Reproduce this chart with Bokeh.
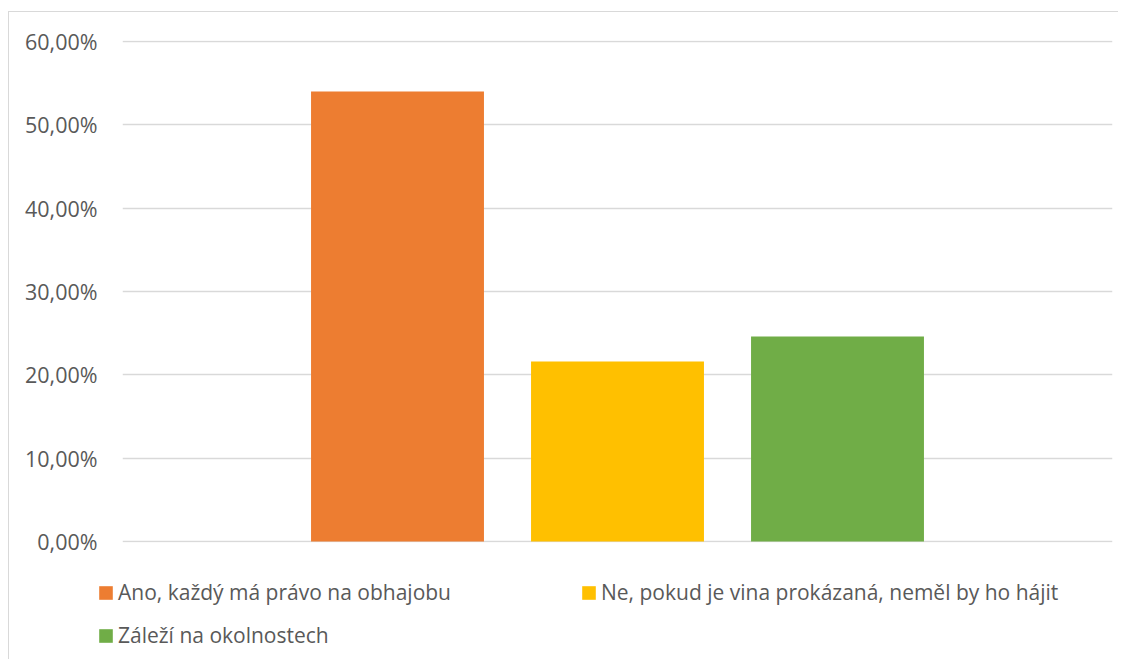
from bokeh.plotting import figure
from bokeh.models import ColumnDataSource, FactorRange, Range1d, FixedTicker, Legend, LegendItem
from bokeh.embed import file_html
from bokeh.resources import INLINE

# ---- data ----
series = ["Ano, každý má právo na obhajobu",
          "Ne, pokud je vina prokázaná, neměl by ho hájit",
          "Záleží na okolnostech"]
values = [54.0, 21.6, 24.6]
colors = ["#ED7D31", "#FFC000", "#70AD47"]
ticks = [0, 10, 20, 30, 40, 50, 60]
tick_labels = ["0,00%", "10,00%", "20,00%", "30,00%", "40,00%", "50,00%", "60,00%"]

FONT = "Open Sans"
FS = "21.5px"
TXT = "#595959"

source = ColumnDataSource(dict(x=series, top=values, color=colors))

# ---- main chart ----
p = figure(width=1110, height=548, output_backend="svg", toolbar_location=None,
           x_range=FactorRange(factors=series, range_padding=0.5),
           y_range=Range1d(-0.12, 60.12),
           min_border_left=113, min_border_top=28, min_border_right=7, min_border_bottom=18)
p.styles = {"border-top": "1px solid #d9d9d9", "border-left": "1px solid #d9d9d9",
            "margin-top": "11px", "margin-left": "8px"}

r = p.vbar(x="x", top="top", width=0.786, source=source, fill_color="color",
           line_color=None)

p.outline_line_color = None
p.background_fill_color = "white"
p.border_fill_color = "white"
p.xaxis.visible = False
p.xgrid.visible = False
p.ygrid.grid_line_color = "#d9d9d9"
p.ygrid.grid_line_width = 1.5

ya = p.yaxis[0]
ya.ticker = FixedTicker(ticks=ticks)
ya.major_label_overrides = {t: l for t, l in zip(ticks, tick_labels)}
ya.axis_line_color = None
ya.major_tick_line_color = None
ya.minor_tick_line_color = None
ya.major_tick_out = 0
ya.major_tick_in = 0
ya.major_label_standoff = 25
ya.major_label_text_font = FONT
ya.major_label_text_font_size = FS
ya.major_label_text_color = TXT

# ---- legend strip (same series, bars kept out of view) ----
p2 = figure(width=1110, height=100, output_backend="svg", toolbar_location=None,
            x_range=FactorRange(factors=series), y_range=Range1d(1000, 1001),
            min_border_left=0, min_border_top=0, min_border_right=0, min_border_bottom=0)
p2.styles = {"border-left": "1px solid #d9d9d9", "margin-left": "8px"}
r2 = p2.vbar(x="x", top="top", width=0.5, source=source, fill_color="color",
             line_color=None)
p2.axis.visible = False
p2.grid.visible = False
p2.outline_line_color = None

items = [LegendItem(label=s, renderers=[r2], index=i) for i, s in enumerate(series)]
leg = Legend(items=items, location=(88, 10), orientation="horizontal", ncols=2,
             border_line_color=None, background_fill_alpha=0, padding=0, margin=0,
             glyph_width=17, glyph_height=17, label_standoff=4, label_width=447,
             label_height=22, spacing=15, label_text_font=FONT,
             label_text_font_size="21px", label_text_color=TXT)
p2.add_layout(leg, "center")

open("out.html", "w").write(file_html([p, p2], INLINE))
